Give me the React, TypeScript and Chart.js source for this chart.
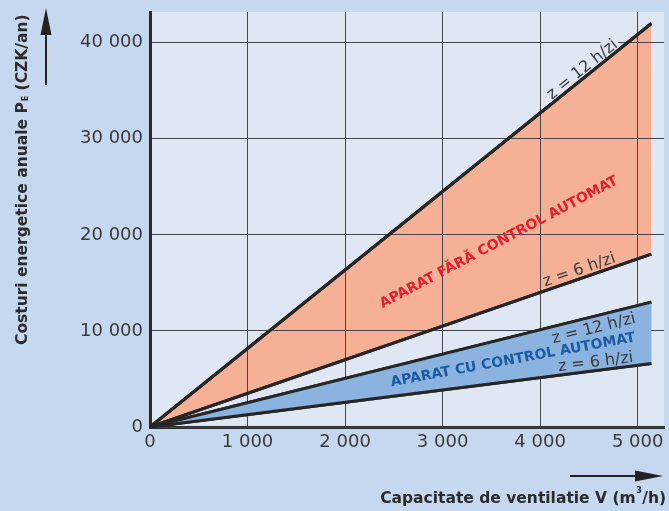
import React, { useEffect, useRef } from "react";
import { Chart, registerables } from "chart.js";

Chart.register(...registerables);

// ---- data ----
const capacity = [0, 5140];
const costNoControl12h = [0, 42000];
const costNoControl6h = [0, 18000];
const costAuto12h = [0, 13000];
const costAuto6h = [0, 6600];
const xTickValues = [0, 1000, 2000, 3000, 4000, 5000];
const yTickValues = [0, 10000, 20000, 30000, 40000];
const xRange = [0, 5270];
const yRange = [0, 43200];

// ---- texts ----
const yTitleParts = ["Costuri energetice anuale P", "E", " (CZK/an)"];
const xTitleParts = ["Capacitate de ventilatie V (m", "3", "/h)"];
const labelNoControl = "APARAT FĂRĂ CONTROL AUTOMAT";
const labelAuto = "APARAT CU CONTROL AUTOMAT";
const label12 = "z = 12 h/zi";
const label6 = "z = 6 h/zi";

// label anchors (data units along the x axis)
const anchorTop12 = 4480;
const anchorTop6 = 4430;
const anchorAuto12 = 4520;
const anchorAuto6 = 4580;
const anchorNoControl = 3578;
const anchorAuto = 3722;

const OUTER = "#c6d8ef";
const PLOT = "#dfe6f4";
const ORANGE = "#f6b096";
const BLUE = "#8ab3df";
const GRID = "#474747";
const AXIS = "#2a2a2a";
const TEXT = "#3a3a3a";
const LINE = "#262626";
const RED = "#e3202b";
const DARKBLUE = "#1c5aa6";

const fmt = (v: number) => String(v).replace(/\B(?=(\d{3})+(?!\d))/g, " ");
const pts = (ys: number[]) => capacity.map((x, i) => ({ x, y: ys[i] }));

function lineGeom(chart: any, series: number[], xVal: number) {
  const xs = chart.scales.x;
  const ys = chart.scales.y;
  const x0 = xs.getPixelForValue(capacity[0]);
  const y0 = ys.getPixelForValue(series[0]);
  const x1 = xs.getPixelForValue(capacity[1]);
  const y1 = ys.getPixelForValue(series[1]);
  const ang = Math.atan2(y1 - y0, x1 - x0);
  const t = (xVal - capacity[0]) / (capacity[1] - capacity[0]);
  const px = xs.getPixelForValue(xVal);
  const py = ys.getPixelForValue(series[0] + t * (series[1] - series[0]));
  return { px, py, ang };
}

function lineLabel(
  chart: any,
  text: string,
  series: number[],
  xVal: number,
  gap: number,
  above: boolean,
  boxColor?: string
) {
  const ctx = chart.ctx;
  const { px, py, ang } = lineGeom(chart, series, xVal);
  ctx.save();
  ctx.translate(px, py);
  ctx.rotate(ang);
  ctx.font = '16px "DejaVu Sans"';
  ctx.textAlign = "center";
  let y: number;
  if (above) {
    ctx.textBaseline = "alphabetic";
    y = -gap;
  } else {
    ctx.textBaseline = "top";
    y = gap;
  }
  if (boxColor) {
    const w = ctx.measureText(text).width;
    ctx.fillStyle = boxColor;
    ctx.fillRect(-w / 2 - 2, y - 14, w + 4, 15);
  }
  ctx.fillStyle = TEXT;
  ctx.fillText(text, 0, y);
  ctx.restore();
}

function bandLabel(
  chart: any,
  text: string,
  upper: number[],
  lower: number[],
  frac: number,
  xVal: number,
  color: string
) {
  const ctx = chart.ctx;
  const mid = lower.map((v, i) => v + frac * (upper[i] - v));
  const { px, py, ang } = lineGeom(chart, mid, xVal);
  ctx.save();
  ctx.translate(px, py);
  ctx.rotate(ang);
  ctx.font = 'bold 14px "DejaVu Sans"';
  ctx.textAlign = "center";
  ctx.textBaseline = "middle";
  ctx.fillStyle = color;
  ctx.fillText(text, 0, 0);
  ctx.restore();
}

const decor = {
  id: "decor",
  beforeDraw(chart: any) {
    const { ctx, chartArea: a, width, height } = chart;
    ctx.save();
    ctx.fillStyle = OUTER;
    ctx.fillRect(0, 0, width, height);
    ctx.fillStyle = PLOT;
    ctx.fillRect(a.left, a.top, a.right - a.left, a.bottom - a.top);
    ctx.restore();
  },
  afterDraw(chart: any) {
    const ctx = chart.ctx;
    // blue band covers the grid
    const m2 = chart.getDatasetMeta(2);
    const m3 = chart.getDatasetMeta(3);
    ctx.save();
    ctx.beginPath();
    m2.data.forEach((p: any, i: number) => (i ? ctx.lineTo(p.x, p.y) : ctx.moveTo(p.x, p.y)));
    [...m3.data].reverse().forEach((p: any) => ctx.lineTo(p.x, p.y));
    ctx.closePath();
    ctx.fillStyle = BLUE;
    ctx.fill();
    ctx.restore();
    for (let i = 0; i < 4; i++) chart.getDatasetMeta(i).dataset.draw(ctx, chart.chartArea);

    // line labels
    lineLabel(chart, label12, costNoControl12h, anchorTop12, 3, true, PLOT);
    lineLabel(chart, label6, costNoControl6h, anchorTop6, 4, true);
    lineLabel(chart, label12, costAuto12h, anchorAuto12, 4, false);
    lineLabel(chart, label6, costAuto6h, anchorAuto6, 4, true);
    bandLabel(chart, labelNoControl, costNoControl12h, costNoControl6h, 0.4, anchorNoControl, RED);
    bandLabel(chart, labelAuto, costAuto12h, costAuto6h, 0.47, anchorAuto, DARKBLUE);

    const big = 'bold 15.5px "DejaVu Sans"';
    const small = 'bold 8px "DejaVu Sans"';

    // y title
    ctx.save();
    ctx.fillStyle = "#2b2b2b";
    ctx.translate(27, 345);
    ctx.rotate(-Math.PI / 2);
    ctx.textAlign = "left";
    ctx.textBaseline = "alphabetic";
    ctx.font = big;
    let x = 0;
    ctx.fillText(yTitleParts[0], x, 0);
    x += ctx.measureText(yTitleParts[0]).width + 1;
    ctx.font = small;
    ctx.fillText(yTitleParts[1], x, 1);
    x += ctx.measureText(yTitleParts[1]).width;
    ctx.font = big;
    ctx.fillText(yTitleParts[2], x, 0);
    ctx.restore();

    // x title
    ctx.save();
    ctx.fillStyle = "#2b2b2b";
    ctx.textAlign = "left";
    ctx.textBaseline = "alphabetic";
    ctx.font = big;
    const w1 = ctx.measureText(xTitleParts[0]).width;
    const w3 = ctx.measureText(xTitleParts[2]).width;
    ctx.font = small;
    const w2 = ctx.measureText(xTitleParts[1]).width + 1;
    let sx = 666 - (w1 + w2 + w3);
    ctx.font = big;
    ctx.fillText(xTitleParts[0], sx, 503);
    sx += w1;
    ctx.font = small;
    ctx.fillText(xTitleParts[1], sx + 0.5, 493);
    sx += w2;
    ctx.font = big;
    ctx.fillText(xTitleParts[2], sx, 503);
    ctx.restore();

    // arrows
    ctx.save();
    ctx.strokeStyle = "#222";
    ctx.fillStyle = "#222";
    ctx.lineWidth = 2;
    ctx.beginPath();
    ctx.moveTo(46, 85);
    ctx.lineTo(46, 30);
    ctx.stroke();
    ctx.beginPath();
    ctx.moveTo(46, 8);
    ctx.lineTo(40.5, 35);
    ctx.lineTo(51.5, 35);
    ctx.closePath();
    ctx.fill();
    ctx.beginPath();
    ctx.moveTo(570, 476);
    ctx.lineTo(640, 476);
    ctx.stroke();
    ctx.beginPath();
    ctx.moveTo(663, 476);
    ctx.lineTo(635, 470.5);
    ctx.lineTo(635, 481.5);
    ctx.closePath();
    ctx.fill();
    ctx.restore();
  },
};

export default function App() {
  const ref = useRef<HTMLCanvasElement | null>(null);
  useEffect(() => {
    if (!ref.current) return;
    const lineDs = (data: number[], fill: any, bg: string) => ({
      data: pts(data),
      borderColor: LINE,
      borderWidth: 3,
      pointRadius: 0,
      fill,
      backgroundColor: bg,
      tension: 0,
    });
    const chart = new Chart(ref.current, {
      type: "line",
      data: {
        datasets: [
          lineDs(costNoControl12h, 1, ORANGE),
          lineDs(costNoControl6h, false, "transparent"),
          lineDs(costAuto12h, 3, BLUE),
          lineDs(costAuto6h, false, "transparent"),
        ],
      },
      options: {
        responsive: false,
        animation: false,
        events: [],
        layout: { padding: { left: 0, top: 12, right: 5, bottom: 0 } },
        plugins: {
          legend: { display: false },
          tooltip: { enabled: false },
          filler: { drawTime: "beforeDatasetsDraw" },
        },
        scales: {
          x: {
            type: "linear",
            min: xRange[0],
            max: xRange[1],
            afterFit: (s: any) => {
              s.height = 84;
              s.paddingLeft = 0;
              s.paddingRight = 0;
            },
            afterBuildTicks: (s: any) => {
              s.ticks = xTickValues.map((v) => ({ value: v }));
            },
            grid: { color: GRID, lineWidth: 1, drawTicks: false, z: 1 },
            border: { color: AXIS, width: 3, z: 1 },
            ticks: {
              padding: 5,
              color: TEXT,
              font: { family: "DejaVu Sans", size: 18 },
              maxRotation: 0,
              autoSkip: false,
              callback: (v: any) => fmt(Number(v)),
            },
          },
          y: {
            type: "linear",
            min: yRange[0],
            max: yRange[1],
            afterFit: (s: any) => {
              s.width = 150;
              s.paddingTop = 0;
              s.paddingBottom = 0;
            },
            afterBuildTicks: (s: any) => {
              s.ticks = yTickValues.map((v) => ({ value: v }));
            },
            grid: { color: GRID, lineWidth: 1, drawTicks: false, z: 1 },
            border: { color: AXIS, width: 3, z: 1 },
            ticks: {
              padding: 7,
              color: TEXT,
              font: { family: "DejaVu Sans", size: 18 },
              autoSkip: false,
              callback: (v: any) => fmt(Number(v)),
            },
          },
        },
      },
      plugins: [decor],
    } as any);
    return () => chart.destroy();
  }, []);
  return (
    <div style={{ position: "fixed", left: 0, top: 0, width: 669, height: 511, background: OUTER }}>
      <canvas ref={ref} width={669} height={511} style={{ display: "block" }} />
    </div>
  );
}
